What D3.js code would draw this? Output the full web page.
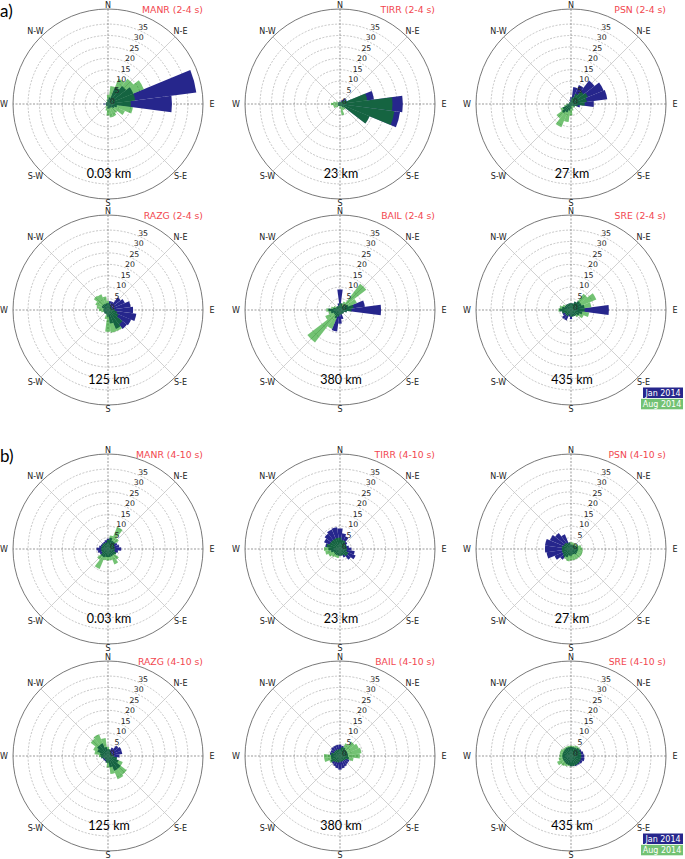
<!DOCTYPE html>
<html><head><meta charset="utf-8">
<script src="https://cdn.jsdelivr.net/npm/d3@7"></script>
<style>body{margin:0;background:#fff}</style>
</head><body><svg id="c" width="685" height="859"></svg>
<script>
// ---- categories / labels ----
const stations = ["MANR","TIRR","PSN","RAZG","BAIL","SRE"];
const distances = ["0.03 km","23 km","27 km","125 km","380 km","435 km"];
const periods = ["2-4 s","4-10 s"];
const panelLetters = ["a)","b)"];
const dirLabels = ["N","N-E","E","S-E","S","S-W","W","N-W"];
const ringTicks = [0,5,10,15,20,25,30,35];
const seriesNames = ["Jan 2014","Aug 2014"];
const binCenters = d3.range(0,360,15); // compass degrees, 24 bins of 15°

// ---- series values (percent per direction bin, N clockwise) ----
// panel a (2-4 s)
const manrA_jan = [2,3,8,10,12,39,28,4,3,2,2,2,2,1,1,1,1,1,2,1,1,1,1,1];
const manrA_aug = [4,8,12,14,17,12,10,11,8,5,6,6,5,3,2,1,1,1,1,1,1,1,1,2];
const tirrA_jan = [1,1,2,3,3,15,27.5,26.5,14,2,1,1,1,1,1,1,1,1,1,1,1,1,1,1];
const tirrA_aug = [1,1,1,2,3,12,23,24,14,3,3,5,2,1,1,2,3,3,4,3,2,1,1,1];
const psnA_jan  = [3,7.5,9,13,15.5,16,10,4,2,1,1,1,2,3,4,5,4,2,1,1,1,1,1,2];
const psnA_aug  = [2,3,5,7,8,7,6,3,2,2,2,3,5,8,11,8,5,3,2,1,1,1,1,1];
const razgA_jan = [3,4,4,7,8,10,11,12.5,11,10.5,9,6,3,2,2,2,2,2,2,2,3,3,3,3];
const razgA_aug = [4,3,2,2,2,2,3,4,5,8,10,10,9.5,4,2,2,2,3,4,5,6,7.8,7.5,6];
const bailA_jan = [9,3,2,3,4,11,18,3,2,2,2,4,6,9.5,4,3,3,4,5,3,2,2,2,3];
const bailA_aug = [3,3,4,14.5,8,6,5,3,2,2,2,2,2,3,9,18,7,5,6,4,3,2,2,2];
const sreA_jan  = [3,3,4,5,5,6,16.6,5,4,3,3,3,4,3,5,5,4,4,5,4,3,3,3,3];
const sreA_aug  = [3,3,4,9,12,9,6,8,6,4,3,3,3,2,3,3,3,4,5.5,5,4,3,3,3];
// panel b (4-10 s)
const manrB_jan = [4.5,5,4,4,4.5,5,5.8,4.5,4,3.5,3.5,3.5,3.5,3.5,4,4,4,4.5,5,4,3.5,3.5,3.5,4];
const manrB_aug = [4,6,10.5,6,3,3,3,3,4,6,7.3,5,5,5,9.5,6,3,3,3,3,3,3,3,3];
const tirrB_jan = [9,7,6,4,3,4,5,6.5,7.4,6,4,3,3,3,3,3,3,4,5,6.5,7.6,8.5,9.3,9.6];
const tirrB_aug = [5,4,4,3,3,3,3,3,4,4,3,3,3,4,4,4.5,5.5,6.5,7,6,5,5,5,5];
const psnB_jan  = [2,2,2,2,2.5,3,3,3,3,3,2.5,2.5,3,3,4,6,7.8,10.8,11.4,11.5,10,8.8,7,3];
const psnB_aug  = [3,3,3,3,3.5,4.5,5,5.2,5.2,5,5,5,5,5.5,5,4.5,4,4,4,4,3.5,3.5,3,3];
const razgB_jan = [3,3,4,5.8,6.4,6.3,5,4,5,7,7,5,3,3,2.5,2.5,2.5,3,3,3.5,5,6,6,4];
const razgB_aug = [4,3,2,2,2,2,2.5,4,7,10.3,11,8,5,3,2,2,2,3,4,6,7,9.6,10.3,8];
const bailB_jan = [5,4.5,4,3.5,3.5,3.5,3.5,4,4.5,4.5,5,5.5,6,5.5,5,4.5,4.5,4,4,4.5,4.5,5,5,5];
const bailB_aug = [3,4,6,8,8.9,9.5,8.7,6,3,2.5,2.5,2.5,2.5,3,3,3.5,5,7,7,4,3,3,3,3];
const sreB_jan  = [4,4,4,4.5,5,5.5,5.8,6,5.5,5,4.8,4.5,4.5,4,4,3.8,3.8,3.8,3.8,3.8,3.8,3.8,4,4];
const sreB_aug  = [4.5,4.5,5,5,4.5,4.5,4.5,4.5,4.5,4.5,4.5,4.5,4.5,4.5,5,5.5,6.6,5.5,5,5,5,4.5,4.5,4.5];

const janSeries = [[manrA_jan,tirrA_jan,psnA_jan,razgA_jan,bailA_jan,sreA_jan],
                   [manrB_jan,tirrB_jan,psnB_jan,razgB_jan,bailB_jan,sreB_jan]];
const augSeries = [[manrA_aug,tirrA_aug,psnA_aug,razgA_aug,bailA_aug,sreA_aug],
                   [manrB_aug,tirrB_aug,psnB_aug,razgB_aug,bailB_aug,sreB_aug]];

// ---- layout ----
const colX = [108, 340, 571];
const rowY = [[104, 310], [549, 756]];
const R = 95;
const JAN_COL = "#26268c", AUG_COL = "#089408", AUG_OP = 0.57;

const svg = d3.select("#c");
const r = d3.scaleLinear().domain([0, 41.6]).range([0, R]);
const ang = d3.scaleLinear().domain([0, 360]).range([0, 2 * Math.PI]);
const halfW = 7.5;
const arc = d3.arc()
  .innerRadius(0)
  .outerRadius(d => r(d.v))
  .startAngle(d => ang(d.a - halfW))
  .endAngle(d => ang(d.a + halfW));

const pt = (deg, rad) => [rad * Math.sin(ang(deg)), -rad * Math.cos(ang(deg))];

periods.forEach((per, p) => {
  svg.append("text").attr("x", 0).attr("y", p === 0 ? 17 : 462)
    .attr("font-family", "Lato, 'Open Sans', sans-serif").attr("font-size", 17)
    .text(panelLetters[p]);

  stations.forEach((st, s) => {
    const cx = colX[s % 3], cy = rowY[p][Math.floor(s / 3)];
    const g = svg.append("g").attr("transform", `translate(${cx},${cy})`);

    // rings
    g.selectAll("circle.ring").data(ringTicks.filter(t => t > 0)).join("circle")
      .attr("class", "ring").attr("r", d => r(d)).attr("fill", "none")
      .attr("stroke", "#a0a0a0").attr("stroke-width", 0.6).attr("stroke-dasharray", "2,1.5");
    // spokes
    [0, 90].forEach(a => {
      const p1 = pt(a, R), p2 = pt(a + 180, R);
      g.append("line").attr("x1", p1[0]).attr("y1", p1[1]).attr("x2", p2[0]).attr("y2", p2[1])
        .attr("stroke", "#555").attr("stroke-width", 0.6).attr("stroke-dasharray", "2,1.5");
    });
    [45, 135].forEach(a => {
      const p1 = pt(a, R), p2 = pt(a + 180, R);
      g.append("line").attr("x1", p1[0]).attr("y1", p1[1]).attr("x2", p2[0]).attr("y2", p2[1])
        .attr("stroke", "#c4c4c4").attr("stroke-width", 0.8);
    });

    // bars
    const jan = janSeries[p][s].map((v, i) => ({a: binCenters[i], v}));
    const aug = augSeries[p][s].map((v, i) => ({a: binCenters[i], v}));
    g.selectAll("path.jan").data(jan).join("path").attr("class", "jan")
      .attr("d", arc).attr("fill", JAN_COL);
    g.selectAll("path.aug").data(aug).join("path").attr("class", "aug")
      .attr("d", arc).attr("fill", AUG_COL).attr("fill-opacity", AUG_OP);

    // outer circle
    g.append("circle").attr("r", R).attr("fill", "none").attr("stroke", "#555").attr("stroke-width", 0.8);

    // ring labels
    g.selectAll("text.rl").data(ringTicks).join("text").attr("class", "rl")
      .attr("x", d => pt(22.5, r(d))[0] + 4.5)
      .attr("y", d => pt(22.5, r(d))[1] - 3)
      .attr("text-anchor", "middle").attr("dominant-baseline", "central")
      .attr("font-family", "DejaVu Sans, sans-serif").attr("font-size", 7.8).attr("fill", "#222")
      .text(d => d);

    // direction labels
    g.selectAll("text.dl").data(dirLabels).join("text").attr("class", "dl")
      .attr("x", (d, i) => { const a = i * 45; return pt(a, R + 4 + 5 * Math.abs(Math.sin(ang(a))))[0]; })
      .attr("y", (d, i) => { const a = i * 45; return pt(a, R + 4 + 5 * Math.abs(Math.sin(ang(a))))[1]; })
      .attr("text-anchor", "middle").attr("dominant-baseline", "central")
      .attr("font-family", "DejaVu Sans, sans-serif").attr("font-size", 8).attr("fill", "#222")
      .text(d => d);

    // title
    g.append("text").attr("x", 95).attr("y", -91).attr("text-anchor", "end")
      .attr("font-family", "DejaVu Sans, sans-serif").attr("font-size", 9.3).attr("fill", "#f2474f")
      .text(`${st} (${per})`);
    // distance
    g.append("text").attr("x", 1).attr("y", 74).attr("text-anchor", "middle")
      .attr("font-family", "Lato, 'Open Sans', sans-serif").attr("font-size", 12.5).attr("fill", "#000")
      .text(distances[s]);
  });

  // legend
  const ly = p === 0 ? 387.5 : 833.5;
  const leg = [{n: seriesNames[0], c: JAN_COL, op: 1, w: 40},
               {n: seriesNames[1], c: AUG_COL, op: AUG_OP, w: 42}];
  leg.forEach((d, i) => {
    const y = ly + i * 11.3;
    svg.append("rect").attr("x", 683 - d.w).attr("y", y).attr("width", d.w).attr("height", 10.5)
      .attr("fill", d.c).attr("fill-opacity", d.op);
    svg.append("text").attr("x", 683 - d.w / 2).attr("y", y + 5.5).attr("text-anchor", "middle")
      .attr("dominant-baseline", "central").attr("font-family", "DejaVu Sans, sans-serif")
      .attr("font-size", 8).attr("fill", "#fff").text(d.n);
  });
});
</script></body></html>
